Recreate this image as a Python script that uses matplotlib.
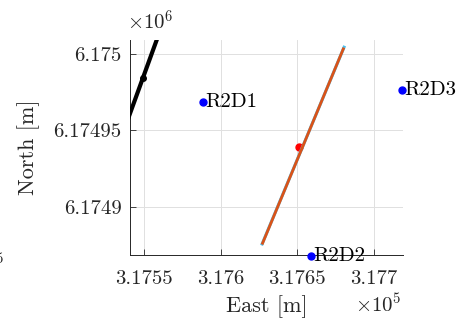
import matplotlib
matplotlib.use("Agg")
import matplotlib.pyplot as plt
from matplotlib.ticker import FixedLocator, FuncFormatter

plt.rcParams["font.family"] = "serif"
plt.rcParams["font.serif"] = ["cmr10"]
plt.rcParams["mathtext.fontset"] = "cm"
plt.rcParams["axes.formatter.use_mathtext"] = True

# Receiver positions (UTM east / north, metres)
rx_names = ["R2D1", "R2D2", "R2D3"]
rx_east = [317588.3, 317659.1, 317718.2]
rx_north = [6174968.7, 6174868.1, 6174976.5]

# Source track (black) and its centre point
src_east = [317530.0, 317565.0]
src_north = [6174931.0, 6175027.5]
src_mid_east = 317549.3
src_mid_north = 6174984.3

# Estimated track (blue under orange) and estimated position (red)
est_east = [317627.3, 317679.9]
est_north = [6174876.5, 6175003.2]
ref_east = [317627.0, 317680.4]
ref_north = [6174876.0, 6175004.3]
pos_east = 317651.0
pos_north = 6174939.5

xticks = [317550, 317600, 317650, 317700]
yticks = [6174900, 6174950, 6175000]

fig = plt.figure(figsize=(4.6, 3.2), dpi=100)
ax = fig.add_axes([130 / 460, 65 / 320, 273 / 460, 215 / 320])

ax.plot(src_east, src_north, color="black", lw=3, zorder=3)
ax.plot(src_mid_east, src_mid_north, "o", color="black", ms=4, zorder=4)
ax.plot(pos_east, pos_north, "o", color="red", ms=5, zorder=2)
ax.plot(ref_east, ref_north, color=(0.3, 0.75, 0.93), lw=2.2, zorder=3)
ax.plot(est_east, est_north, color=(0.85, 0.325, 0.098), lw=2, zorder=4)

for name, e, n in zip(rx_names, rx_east, rx_north):
    ax.plot(e, n, "o", color="blue", ms=5, clip_on=False, zorder=5)
    ax.text(e + 1.5, n, name, fontsize=15, ha="left", va="center",
            clip_on=False, zorder=6)

ax.set_xlim(317540.9, 317718.8)
ax.set_ylim(6174868.8, 6175009.0)

ax.xaxis.set_major_locator(FixedLocator(xticks))
ax.yaxis.set_major_locator(FixedLocator(yticks))
ax.xaxis.set_major_formatter(FuncFormatter(lambda v, p: f"{v / 1e5:g}"))
ax.yaxis.set_major_formatter(FuncFormatter(lambda v, p: f"{v / 1e6:.6g}"))

ax.tick_params(direction="in", length=4, width=0.6, labelsize=15,
               colors="0.15", pad=6)
ax.tick_params(axis="x", pad=11)
ax.grid(True, color="0.88", lw=0.7)
ax.set_axisbelow(True)
for s in ["top", "right"]:
    ax.spines[s].set_visible(False)
for s in ["left", "bottom"]:
    ax.spines[s].set_linewidth(0.7)
    ax.spines[s].set_color("0.15")

ax.set_xlabel("East [m]", fontsize=16, color="0.15", labelpad=5)
ax.set_ylabel("North [m]", fontsize=16, color="0.15", labelpad=10)

fig.text(150 / 460, 1 - 22 / 320, r"$\times10^6$", fontsize=15,
         ha="center", va="center", color="0.15")
fig.text(402 / 460, 1 - 305 / 320, r"$\times10^5$", fontsize=15,
         ha="right", va="center", color="0.15")
fig.text(5 / 460, 1 - 265 / 320, r"$\times10^5$", fontsize=15,
         ha="right", va="center", color="0.15")

fig.savefig("out.png", dpi=100)
